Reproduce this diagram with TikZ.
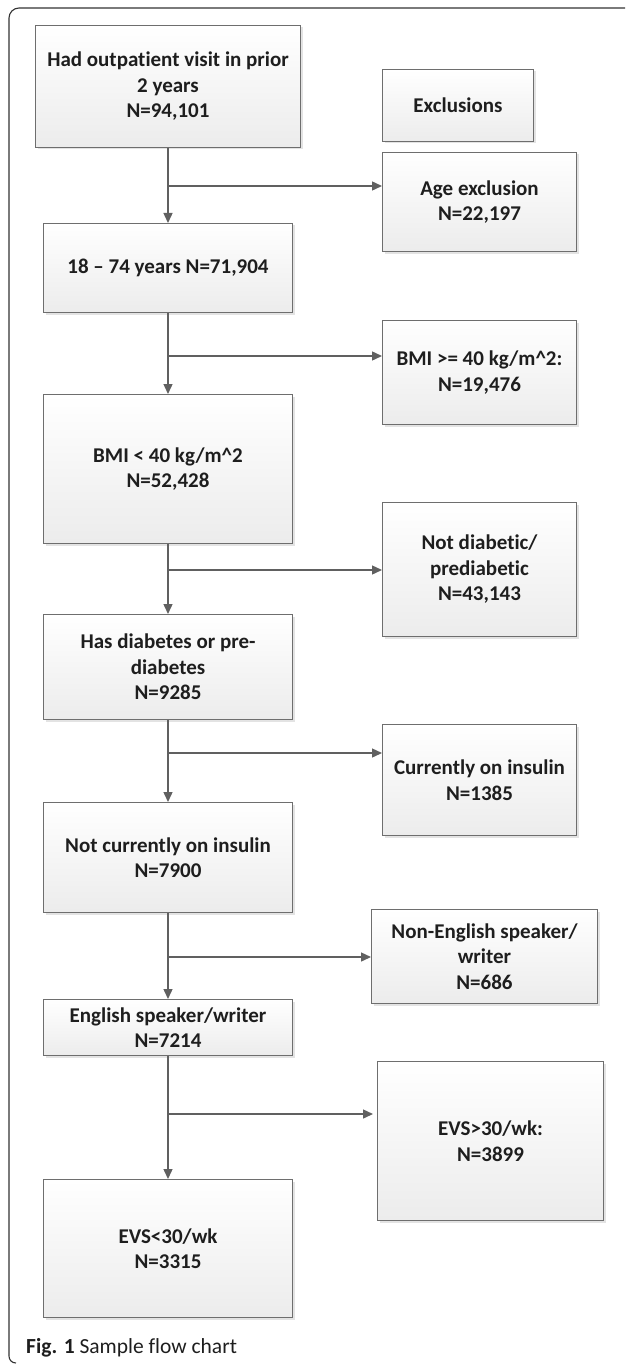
\documentclass[tikz,border=0pt]{standalone}
\usepackage{fontspec}
\setmainfont{Carlito}[Ligatures=NoCommon]
\usetikzlibrary{arrows.meta,shadows}
\definecolor{boxline}{HTML}{6E6E6E}
\definecolor{arrcol}{HTML}{606060}
\definecolor{txt}{HTML}{1E1E1E}
\definecolor{framecol}{HTML}{333333}
\begin{document}
\begin{tikzpicture}[x=1pt,y=-1pt,
  box/.style={draw=boxline, line width=1pt, top color=white, bottom color=gray!15,
    drop shadow={opacity=0.22,shadow xshift=2pt,shadow yshift=-2pt},
    align=center, font=\fontsize{21}{25.5}\selectfont\bfseries, text=txt,
    anchor=north west, inner sep=0pt},
  arr/.style={draw=arrcol, line width=1.4pt, -{Triangle[length=10pt,width=9pt]}}]
\useasboundingbox (0,0) rectangle (627,1364);
% frame
\draw[framecol, line width=1.1pt] (625,8) -- (19,8) .. controls (13.5,8) and (9,12.5) .. (9,18)
  -- (9,1356) .. controls (9,1360) and (12,1363) .. (16,1363);
% main column
\node[box,minimum width=265pt,minimum height=122pt] (b1) at (35,25) {Had outpatient visit in prior\\2 years\\N=94,101};
\node[box,minimum width=249pt,minimum height=89pt] (b2) at (43,223) {18 – 74 years N=71,904};
\node[box,minimum width=249pt,minimum height=149pt] (b3) at (43,394) {BMI < 40 kg/m\textasciicircum 2\\N=52,428};
\node[box,minimum width=249pt,minimum height=105pt] (b4) at (43,614) {Has diabetes or pre-\\diabetes\\N=9285};
\node[box,minimum width=249pt,minimum height=110pt] (b5) at (43,802) {Not currently on insulin\\N=7900};
\node[box,minimum width=249pt,minimum height=56pt] (b6) at (43,999) {English speaker/writer\\N=7214};
\node[box,minimum width=249pt,minimum height=138pt] (b7) at (43,1179) {EVS<30/wk\\N=3315};
% exclusions column
\node[box,minimum width=151pt,minimum height=72pt] (exc) at (382,69) {Exclusions};
\node[box,minimum width=194pt,minimum height=99pt] (e1) at (382,152) {Age exclusion\\N=22,197};
\node[box,minimum width=194pt,minimum height=104pt] (e2) at (382,320) {BMI >= 40 kg/m\textasciicircum 2:\\N=19,476};
\node[box,minimum width=194pt,minimum height=134pt] (e3) at (382,502) {Not diabetic/\\prediabetic\\N=43,143};
\node[box,minimum width=194pt,minimum height=111pt] (e4) at (382,724) {Currently on insulin\\N=1385};
\node[box,minimum width=226pt,minimum height=94pt] (e5) at (371,909) {Non-English speaker/\\writer\\N=686};
\node[box,minimum width=226pt,minimum height=159pt] (e6) at (377,1061) {EVS>30/wk:\\N=3899};
% junctions
\path (b1.south) ++(0,38) coordinate (j1);
\path (b2.south) ++(0,43) coordinate (j2);
\path (b3.south) ++(0,26) coordinate (j3);
\path (b4.south) ++(0,33) coordinate (j4);
\path (b5.south) ++(0,44) coordinate (j5);
\path (b6.south) ++(0,58) coordinate (j6);
% connectors
\draw[arr] (b1.south) -- (b2.north);
\draw[arr] (b2.south) -- (b3.north);
\draw[arr] (b3.south) -- (b4.north);
\draw[arr] (b4.south) -- (b5.north);
\draw[arr] (b5.south) -- (b6.north);
\draw[arr] (b6.south) -- (b7.north);
\draw[arr] (j1) -- (j1 -| e1.west);
\draw[arr] (j2) -- (j2 -| e2.west);
\draw[arr] (j3) -- (j3 -| e3.west);
\draw[arr] (j4) -- (j4 -| e4.west);
\draw[arr] (j5) -- (j5 -| e5.west);
\draw[arr, shorten >=4pt] (j6) -- (j6 -| e6.west);
% caption
\node[anchor=base west, font=\fontsize{21.5}{26}\selectfont, text=txt, inner sep=0pt] (cap) at (26,1353) {\textbf{Fig. 1} Sample flow chart};
\end{tikzpicture}
\end{document}
